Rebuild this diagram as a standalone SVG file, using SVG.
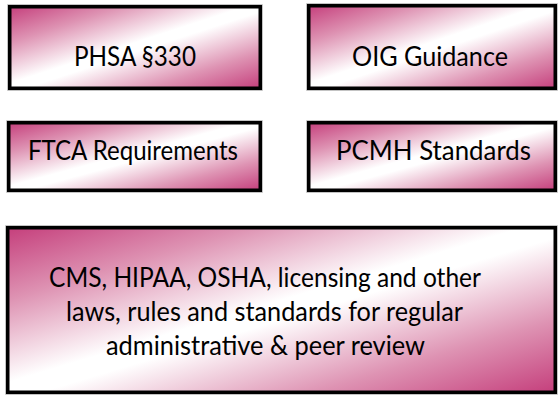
<svg xmlns="http://www.w3.org/2000/svg" width="558" height="397" viewBox="0 0 558 397">
  <defs>
    <linearGradient id="g" x1="0" y1="0" x2="1" y2="1">
      <stop offset="0" stop-color="#C53F7C"/>
      <stop offset="0.22" stop-color="#DE93B3"/>
      <stop offset="0.47" stop-color="#FFFFFF"/>
      <stop offset="0.53" stop-color="#FFFFFF"/>
      <stop offset="0.78" stop-color="#DE93B3"/>
      <stop offset="1" stop-color="#C53F7C"/>
    </linearGradient>
  </defs>
  <style>
    .halo { fill: none; stroke: #B0B0B0; stroke-width: 5; }
    .box { fill: url(#g); stroke: #000000; stroke-width: 3.5; }
    .t { font-family: "Lato", "Open Sans", "Liberation Sans", sans-serif; font-size: 27px; fill: #000000; text-anchor: middle; }
  </style>
  <rect width="558" height="397" fill="#FFFFFF"/>
  <g id="connectors"></g>
  <g id="phsa">
    <rect class="halo" x="9.75" y="6.75" width="250.5" height="81.5"/>
    <rect class="box" x="9.75" y="6.75" width="250.5" height="81.5"/>
    <text class="t" x="135" y="66" textLength="122" lengthAdjust="spacingAndGlyphs">PHSA §330</text>
  </g>
  <g id="oig">
    <rect class="halo" x="308.75" y="5.75" width="246.5" height="82.5"/>
    <rect class="box" x="308.75" y="5.75" width="246.5" height="82.5"/>
    <text class="t" x="430" y="66" textLength="156" lengthAdjust="spacingAndGlyphs">OIG Guidance</text>
  </g>
  <g id="ftca">
    <rect class="halo" x="8.75" y="122.75" width="251.5" height="67.5"/>
    <rect class="box" x="8.75" y="122.75" width="251.5" height="67.5"/>
    <text class="t" x="133" y="160" font-size="25" textLength="210" lengthAdjust="spacingAndGlyphs">FTCA Requirements</text>
  </g>
  <g id="pcmh">
    <rect class="halo" x="308.75" y="122.75" width="246.5" height="67.5"/>
    <rect class="box" x="308.75" y="122.75" width="246.5" height="67.5"/>
    <text class="t" x="433.5" y="160" textLength="195" lengthAdjust="spacingAndGlyphs">PCMH Standards</text>
  </g>
  <g id="cms">
    <rect class="halo" x="7.75" y="227.75" width="547.5" height="164.5"/>
    <rect class="box" x="7.75" y="227.75" width="547.5" height="164.5"/>
    <text class="t" x="265" y="287" textLength="432" lengthAdjust="spacingAndGlyphs">CMS, HIPAA, OSHA, licensing and other</text>
    <text class="t" x="264.5" y="321" textLength="397" lengthAdjust="spacingAndGlyphs">laws, rules and standards for regular</text>
    <text class="t" x="265.5" y="355" textLength="319" lengthAdjust="spacingAndGlyphs">administrative &amp; peer review</text>
  </g>
</svg>
